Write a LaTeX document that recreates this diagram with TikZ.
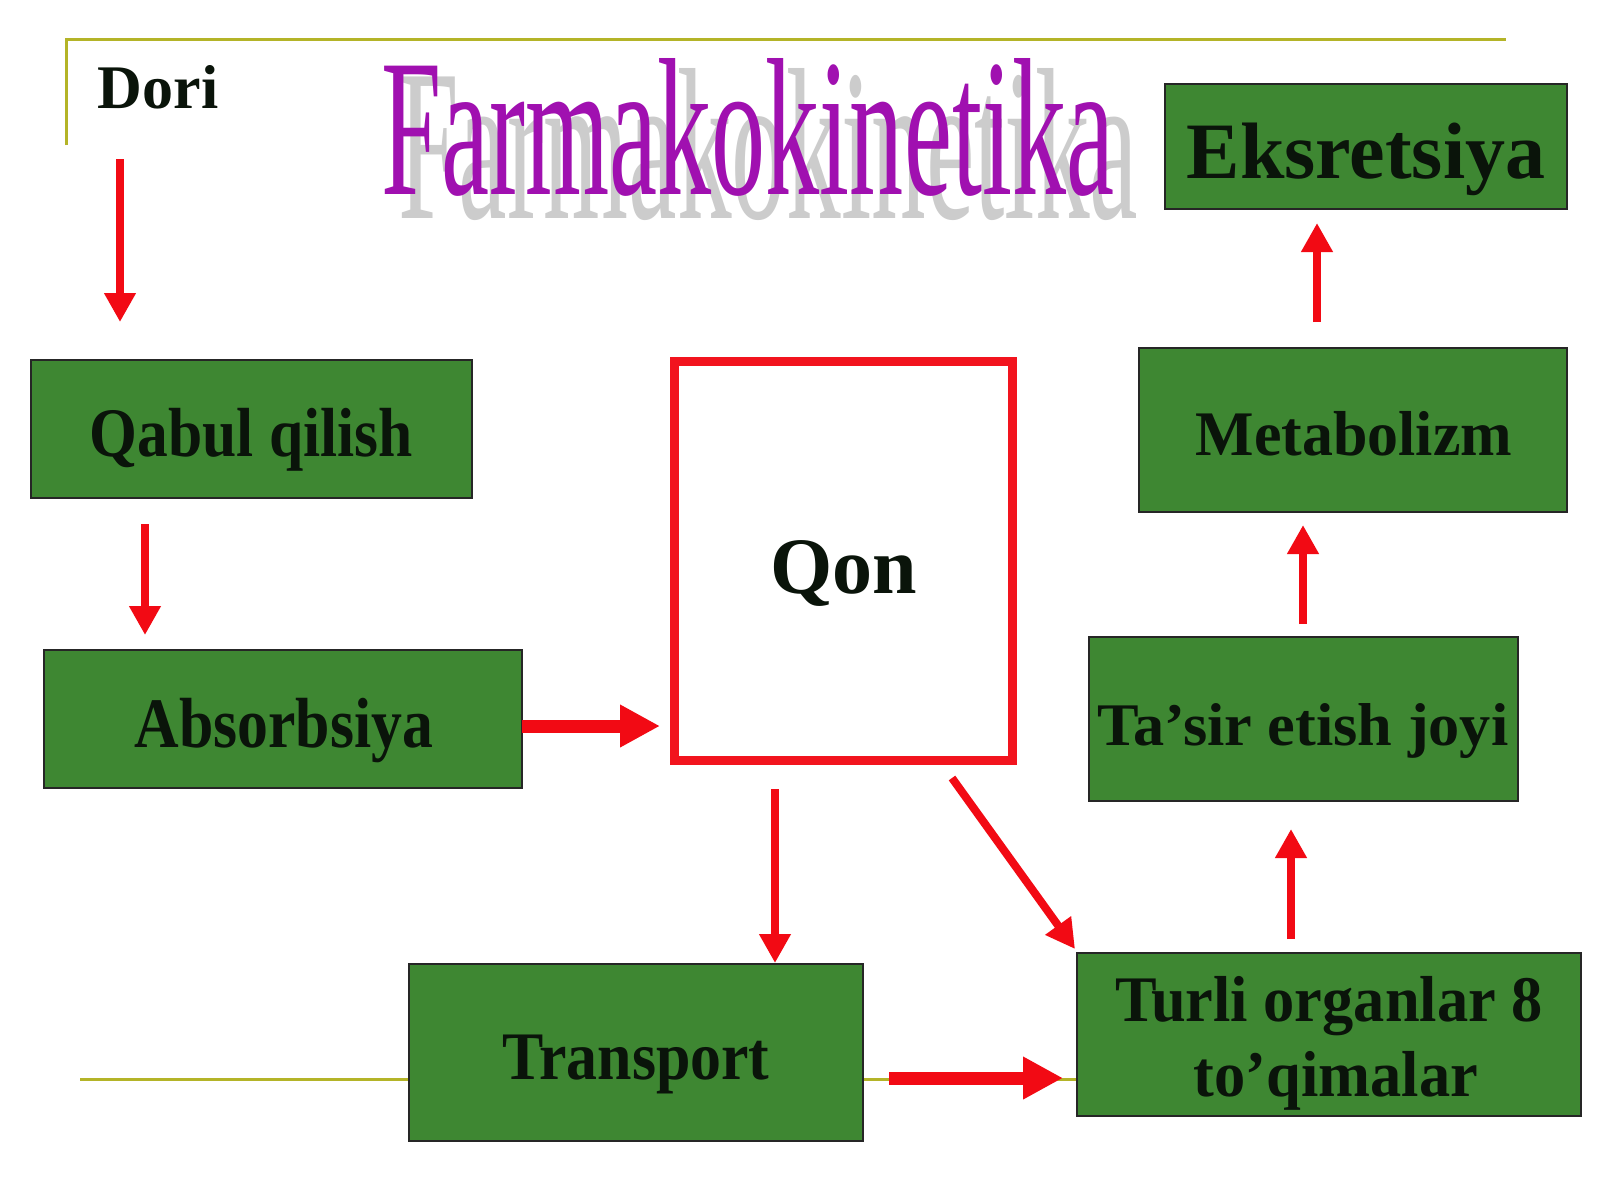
\documentclass[tikz,border=0pt]{standalone}
\usepackage{fontspec}
\setmainfont{Liberation Serif}
\newfontfamily\titlefont{Liberation Serif}
\usetikzlibrary{arrows.meta,calc}
\definecolor{boxgreen}{RGB}{62,135,50}
\definecolor{olivec}{RGB}{180,180,40}
\definecolor{arrred}{RGB}{242,10,20}
\definecolor{qonred}{RGB}{242,20,30}
\definecolor{txtc}{RGB}{10,20,10}
\definecolor{titlepurple}{RGB}{160,16,176}
\definecolor{shadowgray}{RGB}{204,204,204}
\begin{document}
\begin{tikzpicture}[x=1pt,y=-1pt,
  gbox/.style={rectangle, draw=black!85, line width=1.5pt, fill=boxgreen, inner sep=0pt, outer sep=0pt},
  lbl/.style={anchor=base, inner sep=0pt, outer sep=0pt, text=txtc, font=\bfseries},
  arr/.style={draw=arrred, line width=8pt, -{Triangle[length=29pt,width=30pt]}},
  bigarr/.style={draw=arrred, line width=13pt, -{Triangle[length=40pt,width=40pt]}},
  oline/.style={draw=olivec, line width=3pt}]
\fill[white] (0,0) rectangle (1600,1200);
\useasboundingbox (0,0) rectangle (1600,1200);
% decorative lines
\draw[oline] (66,145) -- (66,39) -- (1506,39);
\draw[oline] (80,1079) -- (1077,1079);
% title
\node[anchor=base west, inner sep=0pt, text=shadowgray] (titleshadow) at (398,218) {\resizebox{740pt}{150pt}{\titlefont Farmakokinetika}};
\node[anchor=base west, inner sep=0pt, text=titlepurple] (title) at (381,194) {\resizebox{733pt}{136pt}{\titlefont Farmakokinetika}};
% boxes
\node[gbox, minimum width=441pt, minimum height=138pt] (qabul) at (251.5,429) {};
\node[gbox, minimum width=478pt, minimum height=138pt] (absorb) at (283,719) {};
\node[rectangle, draw=qonred, line width=9pt, fill=white, inner sep=0pt, outer sep=0pt, minimum width=338pt, minimum height=399pt] (qon) at (843.5,561) {};
\node[gbox, minimum width=454pt, minimum height=177pt] (transport) at (636,1052.5) {};
\node[gbox, minimum width=504pt, minimum height=163pt] (turli) at (1329,1034.5) {};
\node[gbox, minimum width=429pt, minimum height=164pt] (tasir) at (1303.5,719) {};
\node[gbox, minimum width=428pt, minimum height=164pt] (metab) at (1353,430) {};
\node[gbox, minimum width=402pt, minimum height=125pt] (eks) at (1366,146.5) {};
% texts
\node[lbl] (dori) at (158,108) {\fontsize{62}{62}\selectfont Dori};
\node[lbl] (tqabul) at (251.5,456) {\fontsize{69.5}{70}\selectfont\scalebox{0.885}[1]{Qabul qilish}};
\node[lbl] (tabsorb) at (284,747) {\fontsize{71}{71}\selectfont\scalebox{0.87}[1]{Absorbsiya}};
\node[lbl] (tqon) at (844,593) {\fontsize{80}{80}\selectfont Qon};
\node[lbl] (ttransport) at (636,1079) {\fontsize{68}{68}\selectfont\scalebox{0.91}[1]{Transport}};
\node[lbl] (tturli) at (1329,1021) {\fontsize{65}{65}\selectfont\scalebox{0.96}[1]{Turli organlar 8}};
\node[lbl] (ttoq) at (1336,1096) {\fontsize{65}{65}\selectfont\scalebox{0.96}[1]{to’qimalar}};
\node[lbl] (ttasir) at (1303,745) {\fontsize{60.5}{61}\selectfont\scalebox{1.03}[1]{Ta’sir etish joyi}};
\node[lbl] (tmetab) at (1354,455) {\fontsize{63.5}{64}\selectfont\scalebox{0.975}[1]{Metabolizm}};
\node[lbl] (teks) at (1366,178) {\fontsize{80}{80}\selectfont Eksretsiya};
% connectors
\draw[arr] ($(dori.base)+(-38,51)$) -- ($(qabul.north west)+(89,-38)$);
\draw[arr] ($(qabul.south west)+(114,26)$) -- ($(absorb.north west)+(101,-15)$);
\draw[bigarr] ($(absorb.east)+(0,7)$) -- ($(qon.west)+(-14.5,165)$);
\draw[arr] ($(qon.south)+(-68.5,28.5)$) -- ($(transport.north)+(139,-1)$);
\draw[arr] ($(qon.south east)+(-60.5,17.5)$) -- ($(turli.north west)+(-2,-4)$);
\draw[bigarr] ($(transport.east)+(26,25.5)$) -- ($(turli.west)+(-14,43.5)$);
\draw[arr] ($(turli.north)+(-38,-14)$) -- ($(tasir.south)+(-12.5,28)$);
\draw[arr] ($(tasir.north)+(-0.5,-13)$) -- ($(metab.south)+(-50,13)$);
\draw[arr] ($(metab.north)+(-36,-26)$) -- ($(eks.south)+(-49,14)$);
\end{tikzpicture}
\end{document}
